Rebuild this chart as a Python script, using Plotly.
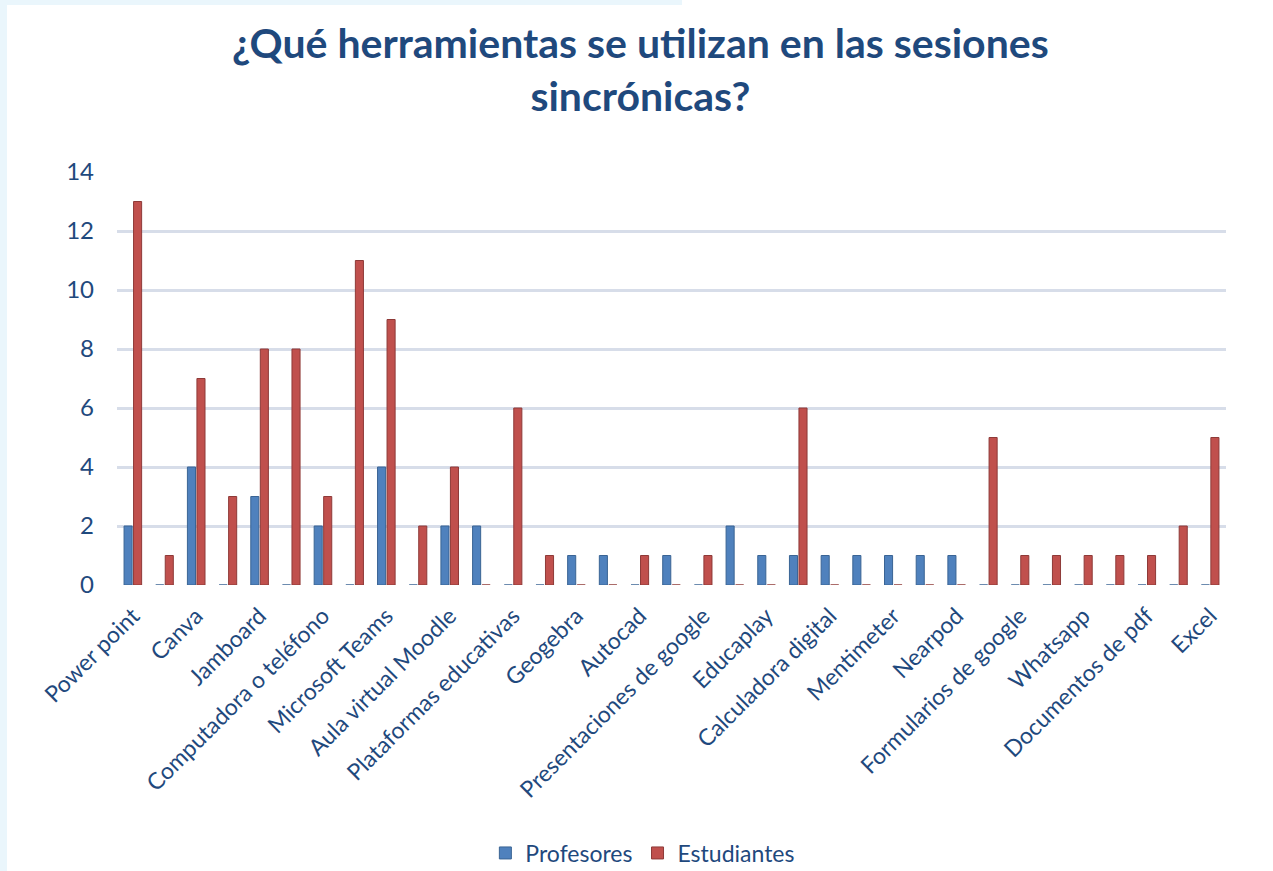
import plotly.graph_objects as go

# posición de cada categoría en el eje (Excel sólo muestra una de cada dos etiquetas)
posiciones = list(range(35))

etiquetas = [
    'Power point', 'Canva', 'Jamboard', 'Computadora o teléfono',
    'Microsoft Teams', 'Aula virtual Moodle', 'Plataformas educativas',
    'Geogebra', 'Autocad', 'Presentaciones de google', 'Educaplay',
    'Calculadora digital', 'Mentimeter', 'Nearpod',
    'Formularios de google', 'Whatsapp', 'Documentos de pdf', 'Excel'
]
posiciones_etiquetas = list(range(0, 35, 2))

profesores = [2, 0, 4, 0, 3, 0, 2, 0, 4, 0, 2, 2, 0, 0, 1, 1, 0, 1,
              0, 2, 1, 1, 1, 1, 1, 1, 1, 0, 0, 0, 0, 0, 0, 0, 0]
estudiantes = [13, 1, 7, 3, 8, 8, 3, 11, 9, 2, 4, 0, 6, 1, 0, 0, 1, 0,
               1, 0, 0, 6, 0, 0, 0, 0, 0, 5, 1, 1, 1, 1, 1, 2, 5]

marcas_y = [0, 2, 4, 6, 8, 10, 12, 14]

W, H = 1273, 871
L, R, T, B = 117, 47, 172, 286

azul_texto = '#1F497D'
fuente = 'Lato'


def px_x(p):
    return (p - L) / (W - L - R)


def px_y(p):
    return (H - B - p) / (H - T - B)


fig = go.Figure()

fig.add_trace(go.Bar(
    x=posiciones,
    y=profesores,
    name='Profesores',
    marker=dict(
        color='#4F81BD',
        line=dict(color='#3A6494', width=1)
    )
))

fig.add_trace(go.Bar(
    x=posiciones,
    y=estudiantes,
    name='Estudiantes',
    marker=dict(
        color='#C0504D',
        line=dict(color='#8E3A38', width=1)
    )
))

fig.update_xaxes(
    range=[-0.5, 34.5],
    tickmode='array',
    tickvals=posiciones_etiquetas,
    ticktext=etiquetas,
    tickangle=-45,
    ticklabelstandoff=12,
    tickfont=dict(family=fuente, size=23, color=azul_texto),
    showgrid=False,
    zeroline=False,
    showline=False
)

fig.update_yaxes(
    range=[0, 14],
    tickvals=marcas_y,
    ticklabelstandoff=22,
    tickfont=dict(family=fuente, size=24, color=azul_texto),
    showgrid=True,
    gridcolor='#D7DDE9',
    gridwidth=3,
    zeroline=False,
    showline=False
)

# franjas celestes del borde de la captura
fig.add_shape(
    type='rect', xref='paper', yref='paper', layer='below',
    x0=px_x(0), x1=px_x(7), y0=px_y(H), y1=px_y(0),
    fillcolor='#EAF6FC', line_width=0
)
fig.add_shape(
    type='rect', xref='paper', yref='paper', layer='below',
    x0=px_x(0), x1=px_x(682), y0=px_y(5), y1=px_y(0),
    fillcolor='#EAF6FC', line_width=0
)

# título en dos líneas
fig.add_annotation(
    text='<b>¿Qué herramientas se utilizan en las sesiones<br>sincrónicas?</b>',
    xref='paper',
    yref='paper',
    x=px_x(640),
    y=px_y(16),
    xanchor='center',
    yanchor='top',
    showarrow=False,
    align='center',
    font=dict(family=fuente, size=41, color=azul_texto)
)

fig.update_layout(
    width=W,
    height=H,
    margin=dict(l=L, r=R, t=T, b=B),
    barmode='group',
    bargap=0.4,
    bargroupgap=0.15,
    plot_bgcolor='white',
    paper_bgcolor='white',
    legend=dict(
        orientation='h',
        xref='container',
        yref='container',
        x=0.505,
        xanchor='center',
        y=1 - 853 / H,
        yanchor='middle',
        font=dict(family=fuente, size=23, color=azul_texto),
        itemwidth=30
    ),
    showlegend=True
)

fig.write_html(
    'out.html',
    config=dict(displayModeBar=False),
    post_script="document.body.style.margin = '0';"
)
